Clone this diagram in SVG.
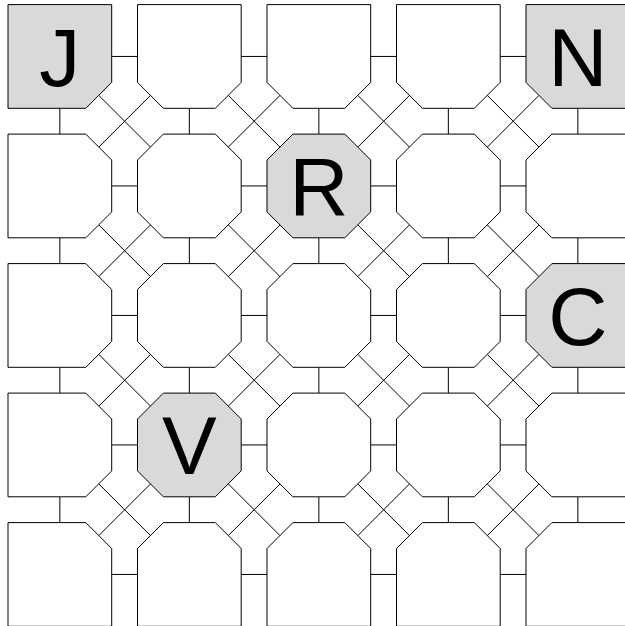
<svg xmlns="http://www.w3.org/2000/svg" xmlns:xlink="http://www.w3.org/1999/xlink" width="625" height="626" viewBox="0 0 625 626">
<style>
.c{fill:#fff;stroke:#000;stroke-width:1}
.g{fill:#d9d9d9;stroke:#000;stroke-width:1}
.e{fill:none;stroke:#000;stroke-width:1}
.t{font-family:"Liberation Sans",Arial,sans-serif;font-size:82px;text-anchor:middle;fill:#000}
</style>
<defs>
<polygon id="oct" points="25.9,0 77.8,0 103.7,25.9 103.7,77.8 77.8,103.7 25.9,103.7 0,77.8 0,25.9"/>
<polygon id="top" points="0,0 103.7,0 103.7,77.8 77.8,103.7 25.9,103.7 0,77.8"/>
<polygon id="tl" points="0,0 103.7,0 103.7,77.8 77.8,103.7 0,103.7"/>
<polygon id="tr" points="0,0 103.7,0 103.7,103.7 25.9,103.7 0,77.8"/>
<polygon id="left" points="0,0 77.8,0 103.7,25.9 103.7,77.8 77.8,103.7 0,103.7"/>
<polygon id="right" points="25.9,0 103.7,0 103.7,103.7 25.9,103.7 0,77.8 0,25.9"/>
<polygon id="bl" points="0,0 77.8,0 103.7,25.9 103.7,103.7 0,103.7"/>
<polygon id="bot" points="25.9,0 77.8,0 103.7,25.9 103.7,103.7 0,103.7 0,25.9"/>
<polygon id="br" points="25.9,0 103.7,0 103.7,103.7 0,103.7 0,25.9"/>
</defs>
<g id="connectors" class="e">
<path d="M111.7 56.45H137.5M241.2 56.45H267M370.7 56.45H396.5M500.2 56.45H526
M111.7 185.95H137.5M241.2 185.95H267M370.7 185.95H396.5M500.2 185.95H526
M111.7 315.45H137.5M241.2 315.45H267M370.7 315.45H396.5M500.2 315.45H526
M111.7 444.95H137.5M241.2 444.95H267M370.7 444.95H396.5M500.2 444.95H526
M111.7 574.45H137.5M241.2 574.45H267M370.7 574.45H396.5M500.2 574.45H526"/>
<path d="M59.85 108.3V134.1M59.85 237.8V263.6M59.85 367.3V393.1M59.85 496.8V522.6
M189.35 108.3V134.1M189.35 237.8V263.6M189.35 367.3V393.1M189.35 496.8V522.6
M318.85 108.3V134.1M318.85 237.8V263.6M318.85 367.3V393.1M318.85 496.8V522.6
M448.35 108.3V134.1M448.35 237.8V263.6M448.35 367.3V393.1M448.35 496.8V522.6
M577.85 108.3V134.1M577.85 237.8V263.6M577.85 367.3V393.1M577.85 496.8V522.6"/>
<path d="M98.75 95.35l51.8 51.8M228.25 95.35l51.8 51.8M357.75 95.35l51.8 51.8M487.25 95.35l51.8 51.8
M98.75 224.85l51.8 51.8M228.25 224.85l51.8 51.8M357.75 224.85l51.8 51.8M487.25 224.85l51.8 51.8
M98.75 354.35l51.8 51.8M228.25 354.35l51.8 51.8M357.75 354.35l51.8 51.8M487.25 354.35l51.8 51.8
M98.75 483.85l51.8 51.8M228.25 483.85l51.8 51.8M357.75 483.85l51.8 51.8M487.25 483.85l51.8 51.8
M150.55 95.35l-51.8 51.8M280.05 95.35l-51.8 51.8M409.55 95.35l-51.8 51.8M539.05 95.35l-51.8 51.8
M150.55 224.85l-51.8 51.8M280.05 224.85l-51.8 51.8M409.55 224.85l-51.8 51.8M539.05 224.85l-51.8 51.8
M150.55 354.35l-51.8 51.8M280.05 354.35l-51.8 51.8M409.55 354.35l-51.8 51.8M539.05 354.35l-51.8 51.8
M150.55 483.85l-51.8 51.8M280.05 483.85l-51.8 51.8M409.55 483.85l-51.8 51.8M539.05 483.85l-51.8 51.8"/>
</g>
<g id="n00"><use href="#tl" class="g" x="8" y="4.6"/><text class="t" x="59.85" y="85.5">J</text></g>
<g id="n10"><use href="#top" class="c" x="137.5" y="4.6"/></g>
<g id="n20"><use href="#top" class="c" x="267" y="4.6"/></g>
<g id="n30"><use href="#top" class="c" x="396.5" y="4.6"/></g>
<g id="n40"><use href="#tr" class="g" x="526" y="4.6"/><text class="t" x="577.85" y="85.5">N</text></g>
<g id="n01"><use href="#left" class="c" x="8" y="134.1"/></g>
<g id="n11"><use href="#oct" class="c" x="137.5" y="134.1"/></g>
<g id="n21"><use href="#oct" class="g" x="267" y="134.1"/><text class="t" x="318.85" y="215">R</text></g>
<g id="n31"><use href="#oct" class="c" x="396.5" y="134.1"/></g>
<g id="n41"><use href="#right" class="c" x="526" y="134.1"/></g>
<g id="n02"><use href="#left" class="c" x="8" y="263.6"/></g>
<g id="n12"><use href="#oct" class="c" x="137.5" y="263.6"/></g>
<g id="n22"><use href="#oct" class="c" x="267" y="263.6"/></g>
<g id="n32"><use href="#oct" class="c" x="396.5" y="263.6"/></g>
<g id="n42"><use href="#right" class="g" x="526" y="263.6"/><text class="t" x="577.85" y="344.5">C</text></g>
<g id="n03"><use href="#left" class="c" x="8" y="393.1"/></g>
<g id="n13"><use href="#oct" class="g" x="137.5" y="393.1"/><text class="t" x="189.35" y="474">V</text></g>
<g id="n23"><use href="#oct" class="c" x="267" y="393.1"/></g>
<g id="n33"><use href="#oct" class="c" x="396.5" y="393.1"/></g>
<g id="n43"><use href="#right" class="c" x="526" y="393.1"/></g>
<g id="n04"><use href="#bl" class="c" x="8" y="522.6"/></g>
<g id="n14"><use href="#bot" class="c" x="137.5" y="522.6"/></g>
<g id="n24"><use href="#bot" class="c" x="267" y="522.6"/></g>
<g id="n34"><use href="#bot" class="c" x="396.5" y="522.6"/></g>
<g id="n44"><use href="#br" class="c" x="526" y="522.6"/></g>
</svg>
